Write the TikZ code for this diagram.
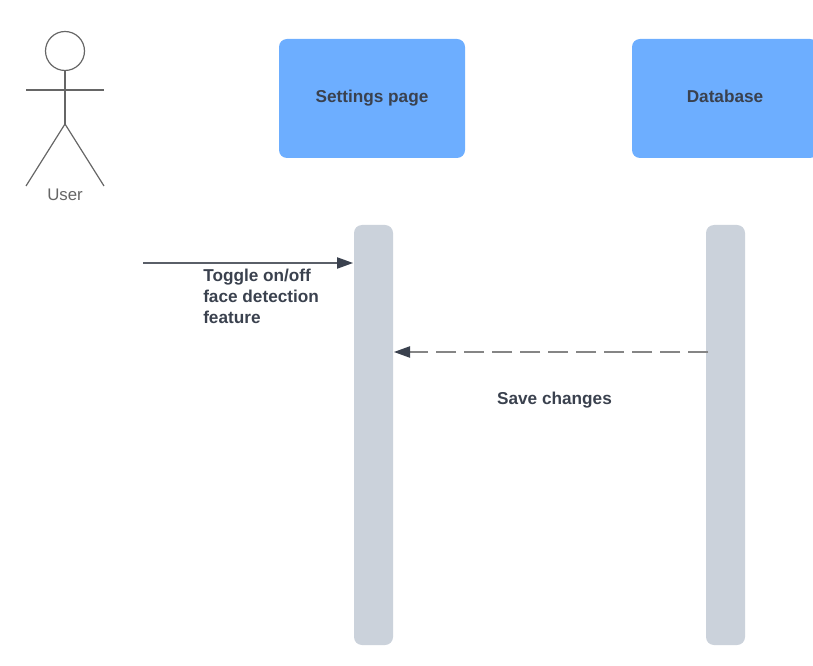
\documentclass[tikz,border=0pt]{standalone}
\usepackage{fontspec}
\setmainfont{Liberation Sans}
\usetikzlibrary{arrows.meta}
\definecolor{boxblue}{HTML}{6DAEFF}
\definecolor{bargrey}{HTML}{CBD2DB}
\definecolor{inkdark}{HTML}{3A414E}
\definecolor{stick}{HTML}{666666}
\definecolor{solidline}{HTML}{5A5F68}
\definecolor{dashline}{HTML}{858585}
\tikzset{
  x=0.75pt,y=-0.75pt,
  lifebox/.style={fill=boxblue,rounded corners=6pt,minimum width=139.5pt,minimum height=89.25pt,inner sep=0pt},
  lifebar/.style={fill=bargrey,rounded corners=6pt,minimum width=29.25pt,minimum height=315pt,inner sep=0pt},
  msgtext/.style={text=inkdark,font=\fontsize{12.9}{15.75}\selectfont\bfseries,inner sep=0pt,align=left},
  stickline/.style={draw=stick,line width=0.9pt},
  msgline/.style={line width=0.9pt,-{Triangle[length=12pt,width=8.5pt,color=inkdark]}},
}
\begin{document}
\begin{tikzpicture}
\useasboundingbox (0,0) rectangle (813,666);
\clip (0,0) rectangle (813,666);
\node[lifebox] (settings) at (372,98.5) {};
\node[msgtext,anchor=base] (settingst) at (372,102.7) {Settings page};
\node[lifebox] (database) at (725,98.5) {};
\node[msgtext,anchor=base] (databaset) at (725,102.7) {Database};
\node[lifebar] (barA) at (373.5,435) {};
\node[lifebar] (barB) at (725.5,435) {};
% actor
\node[circle,stickline,minimum size=29.25pt,inner sep=0pt] (head) at (65,51) {};
\coordinate (hip) at (65,124);
\coordinate (armL) at (26,90);
\coordinate (armR) at (104,90);
\coordinate (footL) at (26,186);
\coordinate (footR) at (104,186);
\draw[stickline] (head.south) -- (hip);
\draw[stickline] (armL) -- (armR);
\draw[stickline] (footL) -- (hip) -- (footR);
\node[text=stick,font=\fontsize{12.6}{15}\selectfont,inner sep=0pt,anchor=base] (user) at (65,200.5) {User};
% messages
\coordinate (start) at (143,263);
\coordinate (endA) at (353,263);
\draw[msgline,draw=solidline] (start) -- (endA);
\node[msgtext,anchor=base west] (toggle) at (203,281.2) {Toggle on/off};
\node[msgtext,anchor=base west] (toggle2) at (203,302.2) {face detection};
\node[msgtext,anchor=base west] (toggle3) at (203,323.2) {feature};
\coordinate (startB) at (708,352);
\coordinate (endB) at (394,352);
\draw[msgline,draw=dashline,dash pattern=on 15pt off 6pt] (startB) -- (endB);
\node[msgtext,anchor=base] (save) at (554.5,404.2) {Save changes};
\end{tikzpicture}
\end{document}
